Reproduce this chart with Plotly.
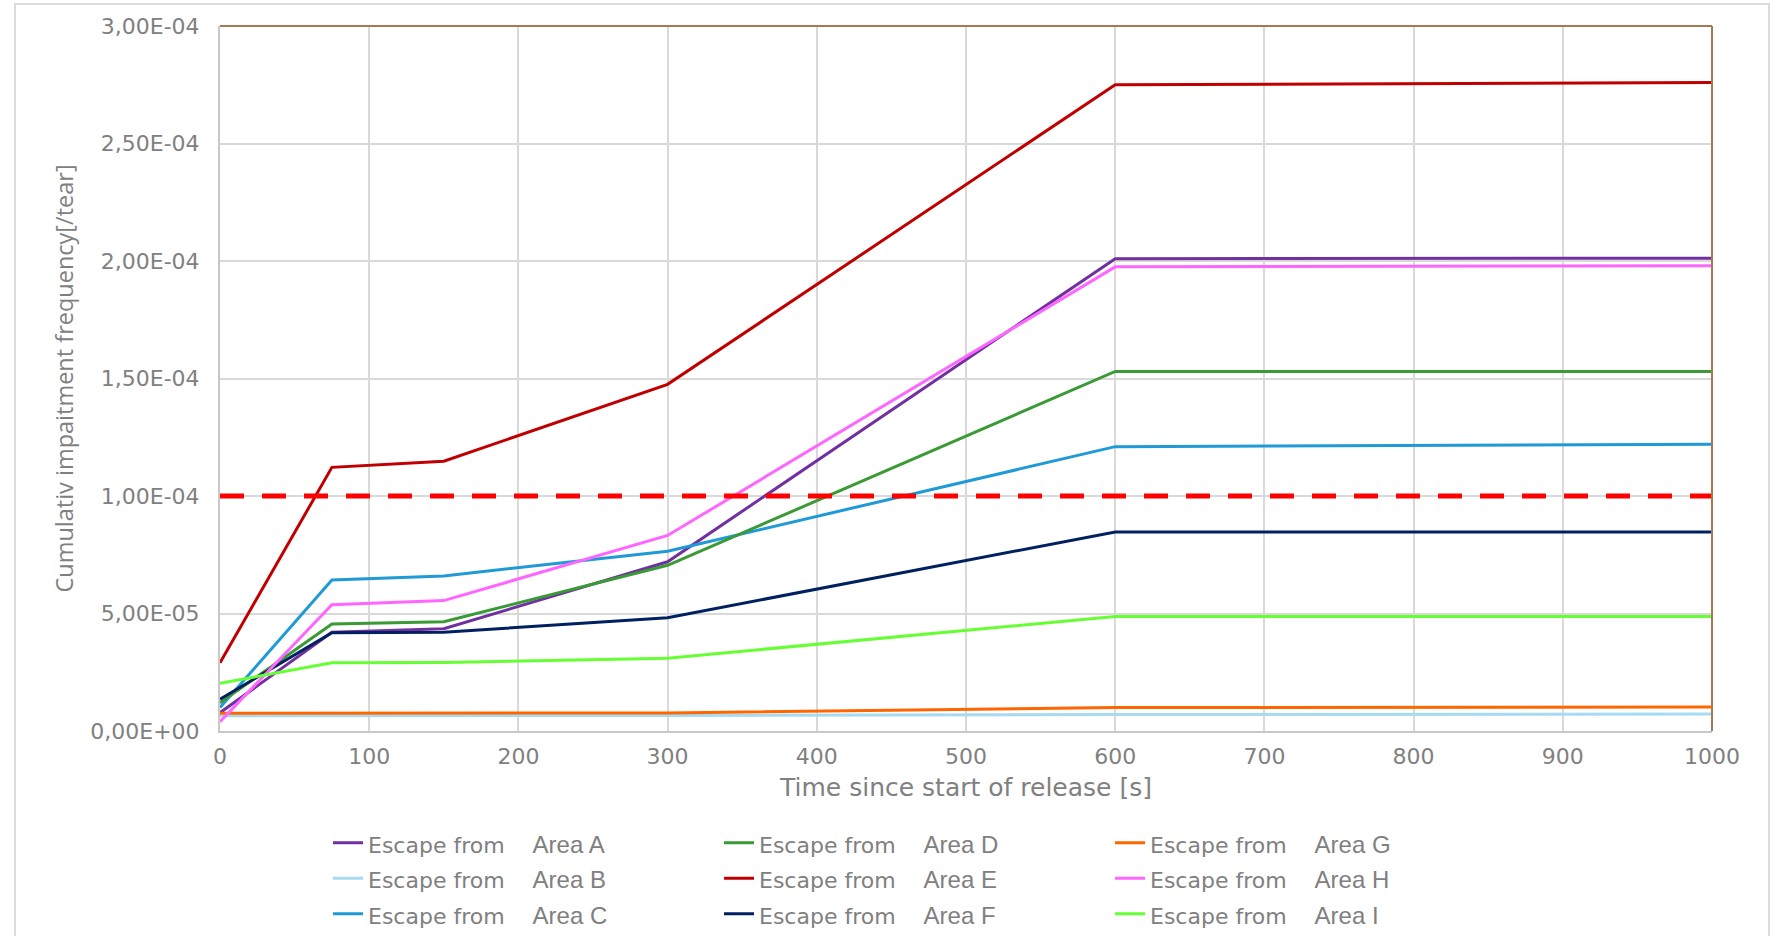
import plotly.graph_objects as go

# ---- data ----
time_s = [0, 75, 150, 300, 600, 1000]
area_a = [7.8e-6, 4.2e-5, 4.35e-5, 7.2e-5, 2.01e-4, 2.012e-4]
area_b = [6.5e-6, 6.5e-6, 6.5e-6, 6.6e-6, 7.0e-6, 7.2e-6]
area_c = [1.0e-5, 6.43e-5, 6.6e-5, 7.65e-5, 1.21e-4, 1.22e-4]
area_d = [1.2e-5, 4.55e-5, 4.65e-5, 7.05e-5, 1.53e-4, 1.53e-4]
area_e = [2.9e-5, 1.122e-4, 1.148e-4, 1.475e-4, 2.75e-4, 2.76e-4]
area_f = [1.35e-5, 4.18e-5, 4.2e-5, 4.82e-5, 8.47e-5, 8.47e-5]
area_g = [7.5e-6, 7.6e-6, 7.7e-6, 7.7e-6, 1.0e-5, 1.02e-5]
area_h = [4.0e-6, 5.37e-5, 5.55e-5, 8.32e-5, 1.975e-4, 1.98e-4]
area_i = [2.03e-5, 2.9e-5, 2.92e-5, 3.1e-5, 4.87e-5, 4.87e-5]

threshold_x = [0, 1000]
threshold_y = [1.0e-4, 1.0e-4]

area_labels = ["Area A", "Area B", "Area C", "Area D", "Area E",
               "Area F", "Area G", "Area H", "Area I"]
legend_ranks = [1, 4, 7, 2, 5, 8, 3, 6, 9]

y_tickvals = [0, 5e-5, 1e-4, 1.5e-4, 2e-4, 2.5e-4, 3e-4]
y_ticktext = ["0,00E+00", "5,00E-05", "1,00E-04", "1,50E-04",
              "2,00E-04", "2,50E-04", "3,00E-04"]
x_tickvals = [0, 100, 200, 300, 400, 500, 600, 700, 800, 900, 1000]

colors = ["#7030A0", "#A6DBF2", "#1F9AD6", "#3A9A35", "#C00000",
          "#002060", "#FF6600", "#FF66FF", "#66FF33"]

series = [area_a, area_b, area_c, area_d, area_e, area_f, area_g, area_h, area_i]

# ---- layout geometry (pixels) ----
W, H = 1780, 936
ML, MR, MT, MB = 220, 68, 26, 205
PW = W - ML - MR
PH = H - MT - MB


def px_x(px):
    return (px - ML) / PW


def px_y(py):
    return (H - MB - py) / PH


fig = go.Figure()

for vals, lab, col, rk in zip(series, area_labels, colors, legend_ranks):
    name = ("<span style=\"font-size:22px\">Escape from&nbsp;&nbsp;&nbsp;&nbsp;</span>"
            "<span style=\"font-family:Liberation Sans;font-size:24px\">" + lab + "</span>")
    fig.add_trace(go.Scatter(
        x=time_s, y=vals, mode="lines", name=name,
        line=dict(color=col, width=3), legendrank=rk,
    ))

fig.add_trace(go.Scatter(
    x=threshold_x, y=threshold_y, mode="lines", showlegend=False,
    line=dict(color="#FF0000", width=5, dash="24px,18px"),
))

axis_font = dict(family="DejaVu Sans", size=22, color="#808080")

fig.update_layout(
    width=W, height=H,
    margin=dict(l=ML, r=MR, t=MT, b=MB, autoexpand=False),
    paper_bgcolor="white", plot_bgcolor="white",
    xaxis=dict(
        range=[0, 1000], tickvals=x_tickvals, ticks="",
        showgrid=True, gridcolor="#D9D9D9", gridwidth=2,
        showline=True, linecolor="#C8C8C8", linewidth=2,
        zeroline=False, tickfont=axis_font, ticklabelstandoff=5,
        title=dict(text="Time since start of release [s]",
                   font=dict(family="DejaVu Sans", size=25, color="#808080"),
                   standoff=10),
    ),
    yaxis=dict(
        range=[0, 3e-4], tickvals=y_tickvals, ticktext=y_ticktext, ticks="",
        showgrid=True, gridcolor="#D9D9D9", gridwidth=2,
        showline=True, linecolor="#C8C8C8", linewidth=2,
        zeroline=False, tickfont=axis_font, ticklabelstandoff=14,
        title=dict(text="Cumulativ impaitment frequency[/tear]",
                   font=dict(family="Open Sans", size=23.5, color="#808080"),
                   standoff=10),
    ),
    legend=dict(
        orientation="h", x=px_x(328), xanchor="left",
        yref="container", y=1 - 820 / H, yanchor="top",
        entrywidth=346, entrywidthmode="pixels",
        font=dict(family="DejaVu Sans", size=25, color="#808080"),
        bgcolor="rgba(0,0,0,0)", traceorder="normal",
    ),
    shapes=[
        dict(type="line", xref="paper", yref="paper", x0=0, x1=1, y0=1, y1=1,
             line=dict(color="#A47A4E", width=2)),
        dict(type="line", xref="paper", yref="paper", x0=1, x1=1, y0=0, y1=1,
             line=dict(color="#A47A4E", width=2)),
        dict(type="rect", xref="paper", yref="paper",
             x0=px_x(15), x1=px_x(1769), y0=px_y(960), y1=px_y(4),
             line=dict(color="#DCDCDC", width=2), layer="below"),
    ],
)

fig.write_html("out.html", config={"displayModeBar": False},
               post_script="document.body.style.margin='0';document.body.style.overflow='hidden';")
